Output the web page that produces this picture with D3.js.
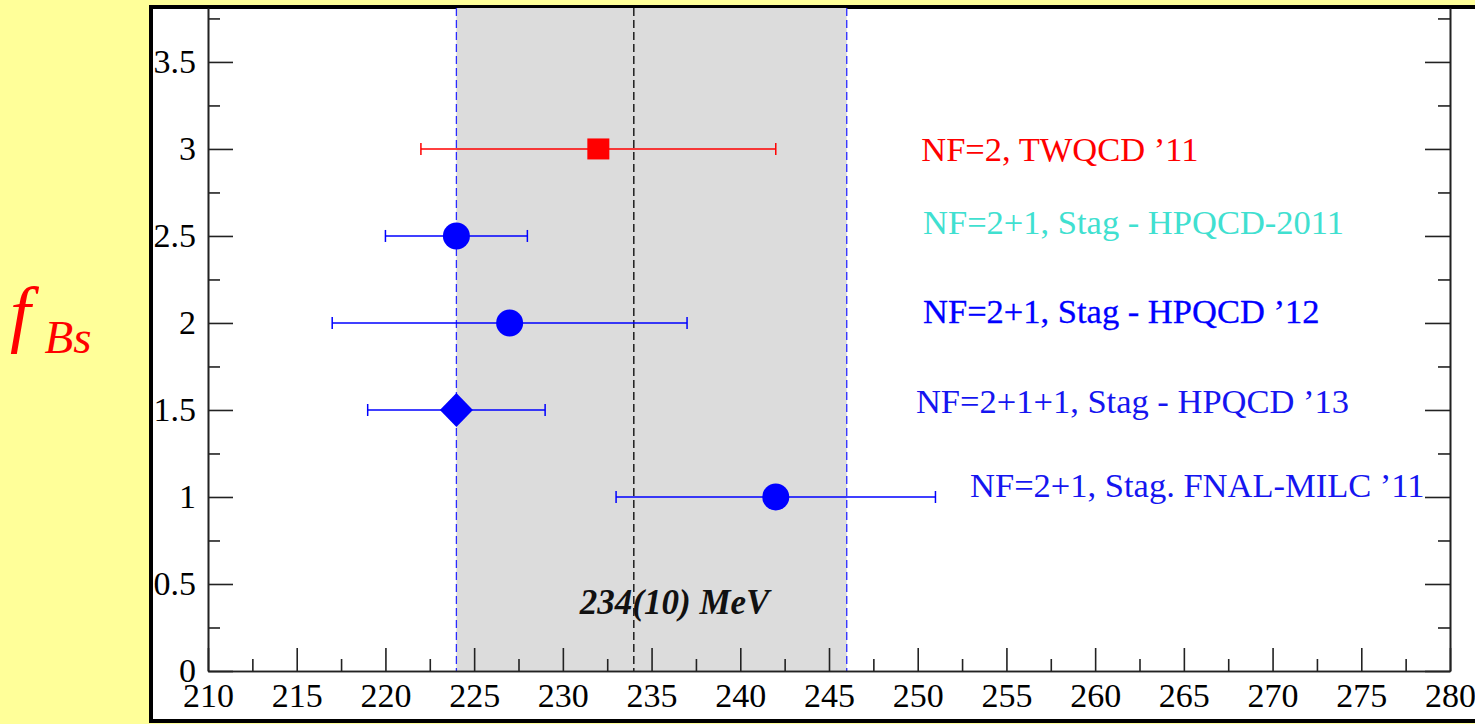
<!DOCTYPE html>
<html><head><meta charset="utf-8">
<script src="https://cdn.jsdelivr.net/npm/d3@7"></script>
<style>
html,body{margin:0;padding:0;background:#ffff99;}
svg{display:block;}
text{font-family:"Liberation Serif","Times New Roman",serif;}
</style></head>
<body>
<svg id="c" width="1475" height="724"></svg>
<script>
// ---- data ----
const labels = ["NF=2, TWQCD \u201911","NF=2+1, Stag - HPQCD-2011","NF=2+1, Stag - HPQCD \u201912","NF=2+1+1, Stag - HPQCD \u201913","NF=2+1, Stag. FNAL-MILC \u201911"];
const centralValues = [232, 224, 227, 224, 242];
const errLow = [222, 220, 217, 219, 233];
const errHigh = [242, 228, 237, 229, 251];
const rowY = [3, 2.5, 2, 1.5, 1];
const markerShapes = ["square","circle","circle","diamond","circle"];
const markerColors = ["#ff0000","#0000ff","#0000ff","#0000ff","#0000ff"];
const labelColors = ["#ff0000","#40e0d0","#0000ff","#1515f0","#1515f0"];
const labelX = [250.2, 250.3, 250.3, 249.9, 252.95];
const labelY = [3.0, 2.58, 2.07, 1.55, 1.07];
const avgValue = 234, bandLow = 224, bandHigh = 246;
const avgLabel = "234(10) MeV";
const avgLabelPos = [236.3, 0.33];
const xMajorTicks = d3.range(210, 281, 5);
const xMinorTicks = d3.range(212.5, 280, 5);
const yMajorTicks = [0,0.5,1,1.5,2,2.5,3,3.5];
const yMinorTicks = d3.range(0.25, 3.8, 0.5);

// ---- layout ----
const svg = d3.select("#c");
const L = 208, R = 1450, T = 8, B = 671;
const x = d3.scaleLinear().domain([210, 280]).range([L, R]);
const y = d3.scaleLinear().domain([0, 3.81]).range([B, T]);

// frame
svg.append("rect").attr("x", 151).attr("y", 7).attr("width", 1340).attr("height", 714)
  .attr("fill", "#fff").attr("stroke", "#000").attr("stroke-width", 4);

// band
svg.append("rect").attr("x", x(bandLow)).attr("y", T)
  .attr("width", x(bandHigh)-x(bandLow)).attr("height", B-T)
  .attr("fill", "#dcdcdc");

// dashed lines
[[bandLow,"#2a2aff"],[bandHigh,"#2a2aff"],[avgValue,"#000"]].forEach(([v,c])=>{
  svg.append("line").attr("x1", x(v)).attr("x2", x(v)).attr("y1", T).attr("y2", B)
    .attr("stroke", c).attr("stroke-width", 1.3).attr("stroke-dasharray", "8,4");
});

// axes
const fs = 34;
function styleAxis(g){ g.select(".domain").attr("stroke","#222").attr("stroke-width",1.6);
  g.selectAll(".tick line").attr("stroke","#222").attr("stroke-width",1.6);
  g.selectAll("text").attr("font-size", fs).attr("font-family","Liberation Serif, serif").attr("fill","#000"); }

svg.append("g").attr("transform",`translate(0,${B})`)
  .call(d3.axisBottom(x).tickValues(xMinorTicks).tickSize(-12).tickFormat("").tickSizeOuter(0)).call(styleAxis);
svg.append("g").attr("transform",`translate(0,${B})`)
  .call(d3.axisBottom(x).tickValues(xMajorTicks).tickSize(-23).tickPadding(12).tickFormat(d3.format("d")).tickSizeOuter(0)).call(styleAxis);

svg.append("g").attr("transform",`translate(${L},0)`)
  .call(d3.axisLeft(y).tickValues(yMinorTicks).tickSize(-12).tickFormat("").tickSizeOuter(0)).call(styleAxis);
svg.append("g").attr("transform",`translate(${L},0)`)
  .call(d3.axisLeft(y).tickValues(yMajorTicks).tickSize(-25).tickPadding(12).tickFormat(d=>d3.format("")(d)).tickSizeOuter(0)).call(styleAxis);

svg.append("g").attr("transform",`translate(${R},0)`)
  .call(d3.axisRight(y).tickValues(yMinorTicks).tickSize(-12).tickFormat("").tickSizeOuter(0)).call(styleAxis);
svg.append("g").attr("transform",`translate(${R},0)`)
  .call(d3.axisRight(y).tickValues(yMajorTicks).tickSize(-25).tickFormat("").tickSizeOuter(0)).call(styleAxis);

// error bars & markers
const rows = d3.range(labels.length);
const g = svg.append("g");
rows.forEach(i=>{
  const c = markerColors[i], yy = y(rowY[i]);
  g.append("line").attr("x1", x(errLow[i])).attr("x2", x(errHigh[i])).attr("y1", yy).attr("y2", yy)
    .attr("stroke", c).attr("stroke-width", 1.5);
  [errLow[i], errHigh[i]].forEach(v=>{
    g.append("line").attr("x1", x(v)).attr("x2", x(v)).attr("y1", yy-6).attr("y2", yy+6)
      .attr("stroke", c).attr("stroke-width", 1.5);
  });
  const cx = x(centralValues[i]);
  if (markerShapes[i]==="square") {
    g.append("rect").attr("x", cx-11).attr("y", yy-10.5).attr("width", 22).attr("height", 21).attr("fill", c);
  } else if (markerShapes[i]==="circle") {
    g.append("circle").attr("cx", cx).attr("cy", yy).attr("r", 13.5).attr("fill", c);
  } else {
    g.append("path").attr("d", `M${cx},${yy-17}L${cx+16.5},${yy}L${cx},${yy+17}L${cx-16.5},${yy}Z`).attr("fill", c);
  }
  g.append("text").attr("x", x(labelX[i])).attr("y", y(labelY[i])).attr("dy","0.35em")
    .attr("font-size", 34.5).attr("fill", labelColors[i])
    .attr("stroke", i===2 ? labelColors[i] : "none").attr("stroke-width", 0.3)
    .text(labels[i]);
});

// average label
svg.append("text").attr("x", x(avgLabelPos[0])).attr("y", y(avgLabelPos[1]))
  .attr("text-anchor","middle").attr("font-size", 35).attr("font-weight","bold").attr("font-style","italic")
  .attr("fill","#111").text(avgLabel);

// y label
const yl = svg.append("text").attr("x", 10).attr("y", 338).attr("fill","#ff0000").attr("font-style","italic");
yl.append("tspan").attr("font-size", 74).text("f");
yl.append("tspan").attr("font-size", 47).attr("dx", 14).attr("dy", 15).text("Bs");
</script>
</body></html>
